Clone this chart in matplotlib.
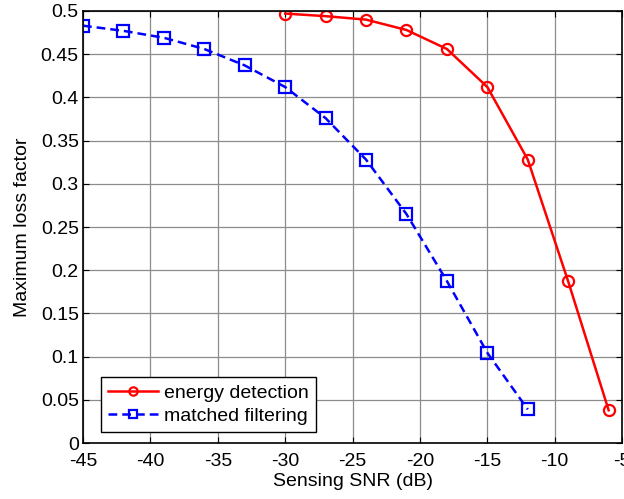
import matplotlib
matplotlib.use("Agg")
import matplotlib.pyplot as plt

plt.rcParams['font.family'] = ['Liberation Sans', 'DejaVu Sans']
plt.rcParams['axes.unicode_minus'] = False

# energy detection
snr_ed = [-30, -27, -24, -21, -18, -15, -12, -9, -6]
loss_ed = [0.497, 0.494, 0.490, 0.478, 0.456, 0.412, 0.328, 0.187, 0.038]

# matched filtering
snr_mf = [-45, -42, -39, -36, -33, -30, -27, -24, -21, -18, -15, -12]
loss_mf = [0.483, 0.477, 0.469, 0.456, 0.437, 0.412, 0.376, 0.328, 0.265, 0.1875, 0.1045, 0.039]

xticks = [-45, -40, -35, -30, -25, -20, -15, -10, -5]
yticks = [0, 0.05, 0.1, 0.15, 0.2, 0.25, 0.3, 0.35, 0.4, 0.45, 0.5]
ytick_labels = ['0', '0.05', '0.1', '0.15', '0.2', '0.25', '0.3', '0.35', '0.4', '0.45', '0.5']

fs = 14

fig = plt.figure(figsize=(6.24, 4.99), dpi=100)
ax = fig.add_axes([0.133, 0.112, 0.864, 0.866])

ax.plot(snr_ed, loss_ed, '-', color='#ff0000', lw=1.8, marker='o', ms=8,
        mfc='none', mew=1.6, label='energy detection')
ax.plot(snr_mf, loss_mf, '--', color='#0000ff', lw=1.8, marker='s', ms=8,
        mfc='none', mew=1.6, label='matched filtering', dashes=(3.5, 2))

ax.set_xlim(-45, -5)
ax.set_ylim(0, 0.5)
ax.set_xticks(xticks)
ax.set_yticks(yticks)
ax.set_yticklabels(ytick_labels)
ax.tick_params(axis='x', pad=7)
ax.tick_params(axis='y', pad=3)
ax.tick_params(direction='in', top=True, right=True, labelsize=fs, length=4)
ax.grid(True, color='#8c8c8c', lw=0.9)
for s in ax.spines.values():
    s.set_linewidth(1.2)

ax.set_xlabel('Sensing SNR (dB)', fontsize=fs, labelpad=2)
ax.set_ylabel('Maximum loss factor', fontsize=fs, labelpad=7)

leg = ax.legend(loc='lower left', bbox_to_anchor=(0.0334, 0.0255), fontsize=fs,
                fancybox=False, framealpha=1, edgecolor='black', borderpad=0.35,
                handlelength=2.6, borderaxespad=0, labelspacing=0.3,
                handletextpad=0.3, markerscale=0.75)
leg.get_frame().set_linewidth(1.0)

fig.savefig('out.png', dpi=100)
